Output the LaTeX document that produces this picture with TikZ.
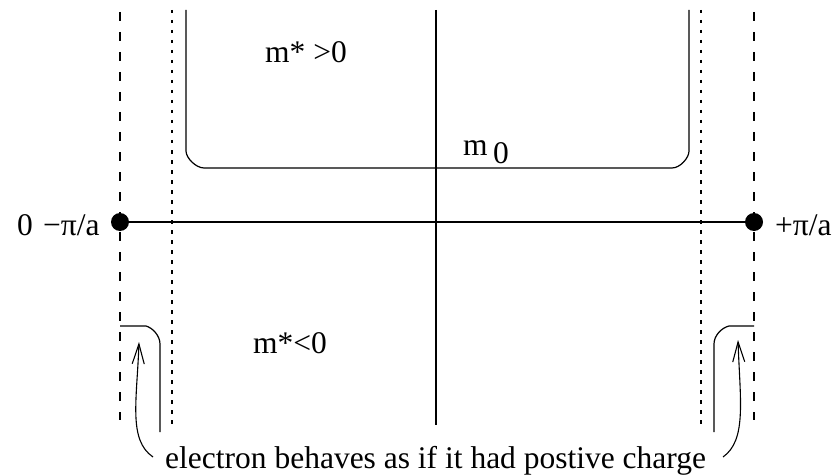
\documentclass[tikz,border=0pt]{standalone}
\usepackage{fontspec}
\setmainfont{Liberation Serif}
\usetikzlibrary{arrows.meta}
\tikzset{
  line/.style={line width=1.2pt, black},
  longdash/.style={line width=1.3pt, dash pattern=on 9pt off 11pt},
  shortdash/.style={line width=1.3pt, dash pattern=on 3.5pt off 6.5pt},
  lbl/.style={inner sep=0pt, anchor=base west, font=\fontsize{31.5}{37}\selectfont},
  endpt/.style={circle, fill=black, inner sep=0pt, minimum size=18pt},
  hint/.style={line width=1.1pt, -{Straight Barb[length=20pt,width=12pt,line width=1.1pt]}}
}
\begin{document}
\begin{tikzpicture}[x=1pt,y=-1pt]
\useasboundingbox (0,0) rectangle (835,476);
% vertical guide lines
\draw[longdash] (120,12) -- (120,420);
\draw[longdash] (754,12) -- (754,420);
\draw[shortdash] (172,10) -- (172,428);
\draw[shortdash] (701,10) -- (701,428);
\draw[line] (436,10) -- (436,425);
% band bracket
\draw[line] (186,10) -- (186,151) .. controls (186,158) and (196,168) .. (204,168)
  -- (672,168) .. controls (680,168) and (689,158) .. (689,151) -- (689,10);
% k-axis
\node[endpt] (L) at (120,222) {};
\node[endpt] (R) at (754,222) {};
\draw[line] (L) -- (R);
% labels
\node[lbl] (zero) at (17,235) {0};
\node[lbl] (mpa) at (43,235) {−π/a};
\node[lbl] (ppa) at (775,235) {+π/a};
\node[lbl] (mpos) at (265,63) {m* >0};
\node[lbl] (mneg) at (253,353) {m*<0};
\node[lbl] (mzero) at (463,155) {m};
\node[lbl] (mzsub) at (493,163) {0};
\node[lbl] (note) at (165,468) {electron behaves as if it had postive charge};
% hooks
\draw[line] (120,326) -- (146,326) .. controls (153,328) and (160,336) .. (160,344) -- (160,432);
\draw[line] (754,326) -- (729,326) .. controls (721,328) and (714,336) .. (714,344) -- (714,432);
% arrows
\coordinate (la) at (153,457);
\coordinate (lt) at (139,342);
\coordinate (ra) at (723,457);
\coordinate (rt) at (738,340);
\draw[hint] (la) .. controls (128,440) and (137,400) .. (lt);
\draw[hint] (ra) .. controls (747,440) and (740,400) .. (rt);
\end{tikzpicture}
\end{document}
